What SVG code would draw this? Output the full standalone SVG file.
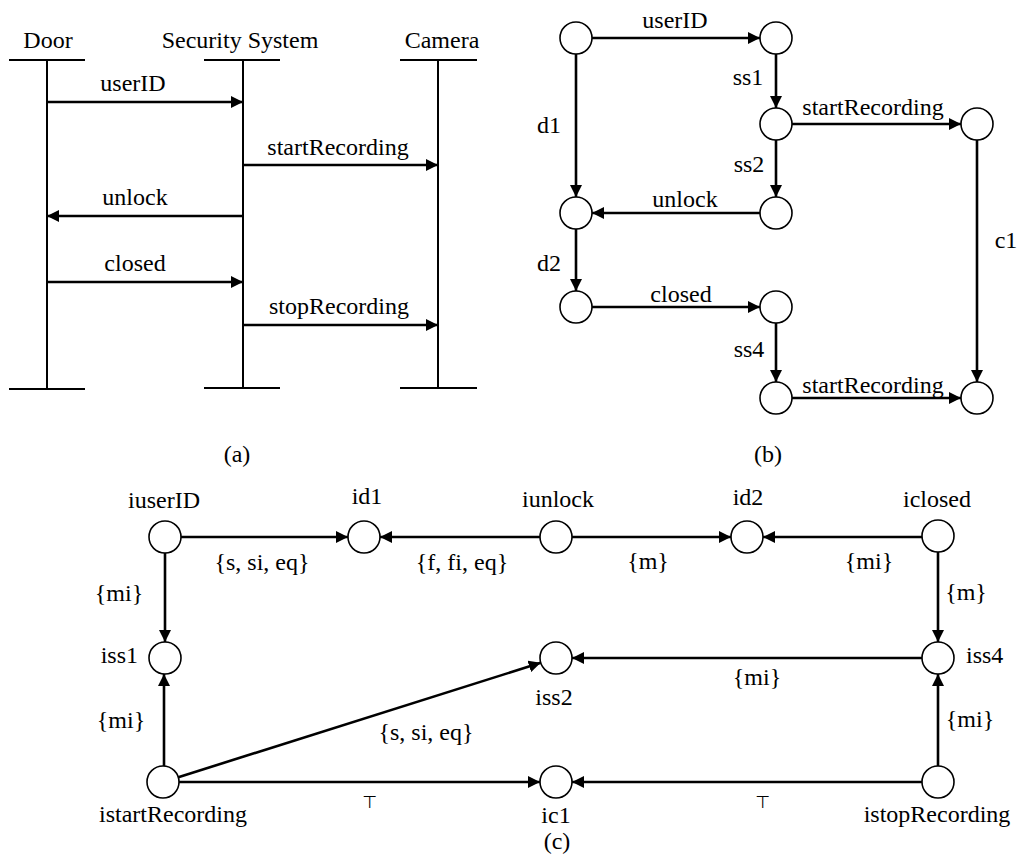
<svg xmlns="http://www.w3.org/2000/svg" width="1017" height="865" viewBox="0 0 1017 865">
<style>
text{font-family:"Liberation Serif","Times New Roman",serif;font-size:24px;fill:#000;text-anchor:middle}
.sym{font-family:"DejaVu Sans",sans-serif;font-size:17px}
.st{text-anchor:start}.en{text-anchor:end}
.node{fill:#fff;stroke:#000;stroke-width:1.6}
.life{stroke:#000;stroke-width:2;fill:none}
.bar{stroke:#000;stroke-width:1.8}
.edge{stroke:#000;stroke-width:2.6;fill:none;marker-end:url(#ah)}
</style>
<defs>
<marker id="ah" markerUnits="userSpaceOnUse" markerWidth="13" markerHeight="12" refX="12" refY="6" orient="auto">
<path d="M0,0 L12,6 L0,12 z" fill="#000"/>
</marker>
</defs>
<rect width="1017" height="865" fill="#fff"/>

<!-- (a) sequence diagram -->
<g id="door">
<text x="48" y="48">Door</text>
<line class="bar" x1="9" y1="60" x2="85" y2="60"/>
<line class="life" x1="47" y1="60" x2="47" y2="389"/>
<line class="bar" x1="9" y1="389" x2="85" y2="389"/>
</g>
<g id="security">
<text x="240" y="48">Security System</text>
<line class="bar" x1="204" y1="60" x2="280" y2="60"/>
<line class="life" x1="243" y1="60" x2="243" y2="388"/>
<line class="bar" x1="204" y1="388" x2="280" y2="388"/>
</g>
<g id="camera">
<text x="442" y="48">Camera</text>
<line class="bar" x1="400" y1="60" x2="477" y2="60"/>
<line class="life" x1="438" y1="60" x2="438" y2="388"/>
<line class="bar" x1="400" y1="388" x2="477" y2="388"/>
</g>
<g id="seq-messages">
<line class="edge" x1="47" y1="102" x2="243" y2="102"/>
<text x="133" y="91">userID</text>
<line class="edge" x1="243" y1="165" x2="438" y2="165"/>
<text x="338" y="155">startRecording</text>
<line class="edge" x1="243" y1="216" x2="47" y2="216"/>
<text x="135" y="205">unlock</text>
<line class="edge" x1="47" y1="282" x2="243" y2="282"/>
<text x="135" y="271">closed</text>
<line class="edge" x1="243" y1="325" x2="438" y2="325"/>
<text x="339" y="314">stopRecording</text>
</g>
<text x="237" y="462">(a)</text>

<!-- (b) graph -->
<g id="b-nodes">
<g id="b1"><circle class="node" cx="576" cy="38" r="16"/></g>
<g id="b2"><circle class="node" cx="776" cy="38" r="16"/></g>
<g id="b3"><circle class="node" cx="776" cy="124" r="16"/></g>
<g id="b4"><circle class="node" cx="977" cy="124" r="16"/></g>
<g id="b5"><circle class="node" cx="576" cy="213" r="16"/></g>
<g id="b6"><circle class="node" cx="776" cy="213" r="16"/></g>
<g id="b7"><circle class="node" cx="576" cy="307" r="16"/></g>
<g id="b8"><circle class="node" cx="776" cy="307" r="16"/></g>
<g id="b9"><circle class="node" cx="776" cy="398" r="16"/></g>
<g id="b10"><circle class="node" cx="977" cy="398" r="16"/></g>
</g>
<g id="b-edges">
<line class="edge" x1="592" y1="38" x2="760" y2="38"/>
<text x="675" y="28">userID</text>
<line class="edge" x1="776" y1="54" x2="776" y2="108"/>
<text x="748" y="85">ss1</text>
<line class="edge" x1="576" y1="54" x2="576" y2="197"/>
<text x="549" y="133">d1</text>
<line class="edge" x1="792" y1="124" x2="961" y2="124"/>
<text x="873" y="115">startRecording</text>
<line class="edge" x1="776" y1="140" x2="776" y2="197"/>
<text x="749" y="172">ss2</text>
<line class="edge" x1="760" y1="213" x2="592" y2="213"/>
<text x="685" y="207">unlock</text>
<line class="edge" x1="977" y1="140" x2="977" y2="382"/>
<text x="1006" y="248">c1</text>
<line class="edge" x1="576" y1="229" x2="576" y2="291"/>
<text x="549" y="271">d2</text>
<line class="edge" x1="592" y1="307" x2="760" y2="307"/>
<text x="681" y="302">closed</text>
<line class="edge" x1="776" y1="323" x2="776" y2="382"/>
<text x="749" y="357">ss4</text>
<line class="edge" x1="792" y1="398" x2="961" y2="398"/>
<text x="873" y="393">startRecording</text>
</g>
<text x="768" y="462">(b)</text>

<!-- (c) graph -->
<g id="c-edges">
<line class="edge" x1="181" y1="537" x2="348" y2="537"/>
<text x="262" y="570">{s, si, eq}</text>
<line class="edge" x1="540" y1="537" x2="380" y2="537"/>
<text x="462" y="570">{f, fi, eq}</text>
<line class="edge" x1="572" y1="537" x2="731" y2="537"/>
<text x="648" y="569">{m}</text>
<line class="edge" x1="922" y1="537" x2="763" y2="537"/>
<text x="869" y="569">{mi}</text>
<line class="edge" x1="165" y1="553" x2="165" y2="642"/>
<text x="119" y="601">{mi}</text>
<line class="edge" x1="938" y1="552" x2="938" y2="642"/>
<text x="966" y="600">{m}</text>
<line class="edge" x1="922" y1="658" x2="572" y2="658"/>
<text x="757" y="685">{mi}</text>
<line class="edge" x1="164" y1="766" x2="164" y2="674"/>
<text x="121" y="728">{mi}</text>
<line class="edge" x1="178.3" y1="777.2" x2="540.7" y2="662.8"/>
<text x="426" y="740">{s, si, eq}</text>
<line class="edge" x1="179" y1="782" x2="540" y2="782"/>
<text class="sym" x="370" y="808">⊤</text>
<line class="edge" x1="922" y1="782" x2="572" y2="782"/>
<text class="sym" x="763" y="808">⊤</text>
<line class="edge" x1="938" y1="766" x2="938" y2="674"/>
<text x="970" y="727">{mi}</text>
</g>
<g id="iuserID"><circle class="node" cx="165" cy="537" r="16"/><text x="164" y="508">iuserID</text></g>
<g id="id1"><circle class="node" cx="364" cy="537" r="16"/><text x="367" y="504">id1</text></g>
<g id="iunlock"><circle class="node" cx="556" cy="537" r="16"/><text x="558" y="507">iunlock</text></g>
<g id="id2"><circle class="node" cx="747" cy="537" r="16"/><text x="748" y="505">id2</text></g>
<g id="iclosed"><circle class="node" cx="938" cy="536" r="16"/><text x="937" y="507">iclosed</text></g>
<g id="iss1"><circle class="node" cx="165" cy="658" r="16"/><text class="en" x="138" y="663">iss1</text></g>
<g id="iss2"><circle class="node" cx="556" cy="658" r="16"/><text x="554" y="705">iss2</text></g>
<g id="iss4"><circle class="node" cx="938" cy="658" r="16"/><text class="st" x="966" y="663">iss4</text></g>
<g id="istartRecording"><circle class="node" cx="163" cy="782" r="16"/><text x="173" y="822">istartRecording</text></g>
<g id="ic1"><circle class="node" cx="556" cy="782" r="16"/><text x="556" y="823">ic1</text></g>
<g id="istopRecording"><circle class="node" cx="938" cy="782" r="16"/><text x="937" y="822">istopRecording</text></g>
<text x="557" y="849">(c)</text>
</svg>
